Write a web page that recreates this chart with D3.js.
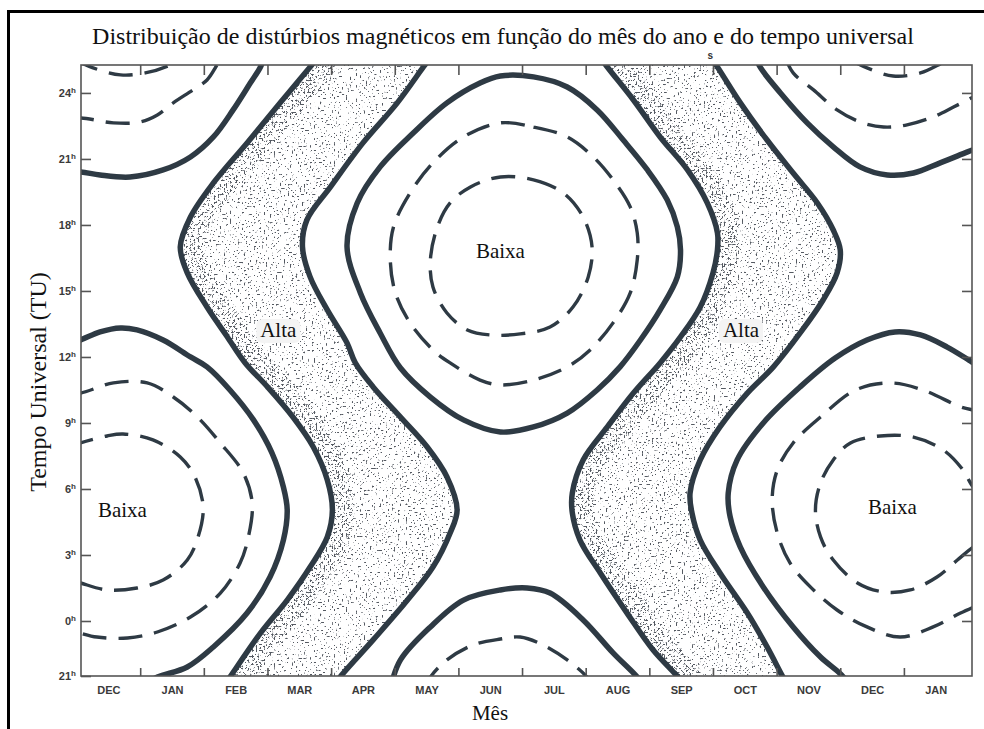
<!DOCTYPE html>
<html>
<head>
<meta charset="utf-8">
<script src="https://cdn.jsdelivr.net/npm/d3@7"></script>
<style>
  html, body { margin: 0; padding: 0; background: #fff; }
  svg { display: block; }
</style>
</head>
<body>
<svg id="chart" width="984" height="729"></svg>
<script>
// ---------------- DATA (month index: 0 = 1 Jan; hour = Tempo Universal) ----------------
const monthLabels = ["DEC","JAN","FEB","MAR","APR","MAY","JUN","JUL","AUG","SEP","OCT","NOV","DEC","JAN"];
const monthLabelPos = [-0.5,0.5,1.5,2.5,3.5,4.5,5.5,6.5,7.5,8.5,9.5,10.5,11.5,12.5];
const monthBoundaries = [0,1,2,3,4,5,6,7,8,9,10,11,12];
const hourTicks = [-2.5,0,3,6,9,12,15,18,21,24];
const hourLabels = ["21","0","3","6","9","12","15","18","21","24"];

// solid contours: borders of the high-activity bands
const solidSpringLeft = [[2.83,25.73],[2.67,25.18],[2.2,23.55],[1.68,21.73],[1.15,19.91],[0.79,18.36],[0.63,17.0],[0.74,15.82],[1.05,14.27],[1.37,12.91],[1.65,11.73],[2.0,10.64],[2.4,9.27],[2.72,7.91],[2.94,6.41],[3.02,5.05],[2.94,3.82],[2.67,2.45],[2.31,0.95],[1.89,-0.55],[1.41,-2.55],[1.29,-3.05]];
const solidSpringRight = [[4.59,25.73],[4.45,25.18],[4.04,23.55],[3.5,21.73],[2.99,19.73],[2.62,18.23],[2.55,17.0],[2.67,15.64],[2.94,14.14],[3.25,12.64],[3.38,11.73],[3.66,10.64],[4.09,9.27],[4.51,7.91],[4.82,6.55],[4.98,5.05],[4.87,4.0],[4.6,2.45],[4.2,0.95],[3.66,-0.86],[3.14,-2.55],[3.02,-3.05]];
const solidFallLeft = [[7.2,25.73],[7.34,25.18],[7.75,23.68],[8.17,22.0],[8.6,20.5],[8.91,19.0],[9.07,17.64],[9.07,16.86],[9.0,15.82],[8.8,14.27],[8.49,12.91],[8.17,11.73],[7.75,10.36],[7.34,8.82],[6.96,7.32],[6.79,5.82],[6.79,4.91],[6.91,3.68],[7.23,2.18],[7.65,0.36],[8.06,-1.32],[8.45,-2.55],[8.58,-3.05]];
const solidFallRight = [[8.94,25.73],[9.07,25.18],[9.43,23.55],[9.85,21.86],[10.26,20.36],[10.64,19.0],[10.89,17.77],[11.0,16.86],[10.95,15.82],[10.73,14.59],[10.37,13.09],[9.95,11.55],[9.54,10.36],[9.11,8.82],[8.8,7.32],[8.64,5.82],[8.67,4.91],[8.8,3.68],[9.11,2.18],[9.54,0.36],[9.85,-1.18],[10.1,-2.55],[10.2,-3.05]];

// solid contours: closed loops around the low-activity centres
const solidJun = [[5.66,24.77],[6.18,24.73],[6.71,24.27],[7.18,23.23],[7.59,21.86],[7.97,20.5],[8.28,19.14],[8.44,17.91],[8.49,16.86],[8.44,15.64],[8.17,14.14],[7.86,12.77],[7.54,11.55],[7.18,10.5],[6.71,9.45],[6.18,8.82],[5.66,8.59],[5.08,9.14],[4.56,10.18],[4.09,11.5],[3.77,13.09],[3.46,14.91],[3.25,17.0],[3.41,19.0],[3.77,20.64],[4.29,22.18],[4.82,23.55],[5.34,24.45]];
const solidJunBottom = [[3.93,-3.05],[4.09,-1.77],[4.56,-0.27],[5.08,0.95],[5.66,1.41],[6.08,1.5],[6.44,1.27],[6.96,0.05],[7.43,-1.45],[7.81,-2.55],[7.94,-3.05]];
const solidDecLeft = [[-1.1,12.64],[-0.94,12.77],[-0.63,13.14],[-0.31,13.32],[-0.05,13.23],[0.36,12.77],[0.79,12.0],[1.05,11.55],[1.41,10.5],[1.78,9.14],[2.07,7.64],[2.25,6.09],[2.31,5.05],[2.25,3.68],[2.04,2.0],[1.68,0.36],[1.15,-1.18],[0.74,-2.09],[0.27,-2.55],[0.0,-2.95]];
const solidDecLeftTop = [[-1.1,20.41],[-0.93,20.41],[-0.63,20.27],[-0.16,20.18],[0.36,20.5],[0.79,21.09],[1.15,22.0],[1.46,23.23],[1.73,24.45],[1.89,25.18],[1.96,25.73]];
const solidDecRight = [[11.13,-3.05],[11.05,-2.55],[10.69,-1.64],[10.26,-0.27],[9.79,1.55],[9.43,3.36],[9.27,4.73],[9.24,5.82],[9.38,7.32],[9.79,9.0],[10.37,10.64],[10.92,11.95],[11.42,12.77],[11.86,13.14],[12.26,13.0],[12.68,12.45],[13.07,11.77],[13.28,11.41]];
const solidDecRightTop = [[9.66,25.73],[9.74,25.18],[10.06,24.0],[10.48,22.64],[10.89,21.55],[11.31,20.64],[11.74,20.27],[12.15,20.36],[12.57,20.82],[13.0,21.32],[13.28,21.64]];

// dashed contours (lowest activity)
const dashedJunOuter = [[5.66,22.64],[6.18,22.45],[6.71,22.0],[7.12,21.09],[7.43,20.05],[7.7,18.82],[7.81,17.64],[7.81,16.41],[7.7,14.91],[7.43,13.55],[7.07,12.32],[6.71,11.55],[6.18,10.95],[5.66,10.73],[5.34,10.95],[4.87,11.73],[4.6,12.32],[4.24,13.55],[4.01,14.91],[3.93,16.41],[3.98,17.91],[4.24,19.45],[4.6,20.82],[5.08,22.0]];
const dashedJunInner = [[5.66,20.18],[6.18,20.05],[6.65,19.45],[6.96,18.36],[7.1,17.0],[7.04,15.64],[6.8,14.27],[6.44,13.36],[5.97,13.05],[5.5,13.0],[5.14,13.23],[4.82,14.0],[4.6,15.18],[4.56,16.41],[4.67,17.91],[4.87,19.0],[5.19,19.73]];
const dashedJunBottom = [[4.48,-3.05],[4.56,-2.55],[4.82,-1.77],[5.23,-1.09],[5.66,-0.82],[5.97,-0.73],[6.33,-1.09],[6.71,-1.77],[7.02,-2.55],[7.12,-3.05]];
const dashedDecLeftOuter = [[-1.1,10.36],[-0.94,10.36],[-0.42,10.82],[0.11,10.82],[0.52,10.18],[0.9,9.27],[1.26,8.09],[1.62,6.73],[1.76,5.36],[1.7,3.82],[1.57,2.64],[1.26,1.27],[0.79,0.18],[0.27,-0.5],[-0.2,-0.77],[-0.68,-0.73],[-0.94,-0.55],[-1.1,-0.41]];
const dashedDecLeftInner = [[-1.1,7.91],[-0.94,8.09],[-0.52,8.41],[-0.27,8.5],[0.2,8.23],[0.63,7.45],[0.86,6.55],[0.99,5.18],[0.91,3.82],[0.74,2.77],[0.36,1.86],[-0.05,1.5],[-0.52,1.41],[-0.94,1.73],[-1.1,1.86]];
const dashedDecLeftTopOuter = [[-1.1,22.77],[-0.94,22.86],[-0.42,22.64],[0.0,22.68],[0.27,23.0],[0.52,23.55],[0.83,24.14],[1.05,24.59],[1.18,25.14],[1.26,25.59]];
const dashedDecLeftTopInner = [[-1.02,25.5],[-0.74,25.14],[-0.31,24.82],[0.08,24.91],[0.47,25.27],[0.63,25.59]];
const dashedDecRightOuter = [[13.28,9.5],[13.09,9.59],[12.89,9.73],[12.3,10.5],[11.79,10.82],[11.24,10.5],[10.69,9.27],[10.26,8.09],[10.01,6.86],[9.93,5.5],[10.01,4.0],[10.21,2.64],[10.53,1.55],[10.95,0.5],[11.42,-0.27],[11.94,-0.73],[12.46,-0.27],[12.89,0.36],[13.28,0.86]];
const dashedDecRightInner = [[13.28,5.73],[13.09,6.09],[12.93,6.86],[12.62,7.77],[12.15,8.36],[11.63,8.41],[11.16,8.09],[10.89,7.32],[10.69,6.27],[10.61,5.05],[10.69,3.82],[10.89,2.77],[11.27,1.73],[11.68,1.32],[12.1,1.41],[12.52,2.0],[12.84,2.77],[13.09,3.36],[13.28,3.68]];
const dashedDecRightTopOuter = [[10.14,25.59],[10.26,24.91],[10.58,24.14],[10.95,23.23],[11.31,22.68],[11.68,22.45],[12.05,22.55],[12.46,22.91],[12.78,23.36],[13.09,23.82],[13.28,24.14]];
const dashedDecRightTopInner = [[11.16,25.5],[11.42,25.14],[11.83,24.77],[12.26,24.91],[12.57,25.32],[12.73,25.59]];

// region labels
const regionText  = ["Baixa","Baixa","Baixa","Alta","Alta"];
const regionMonth = [-0.28, 5.66, 11.82, 2.17, 9.44];
const regionHour  = [4.73, 16.5, 4.86, 12.91, 12.91];

const titleText = "Distribuição de distúrbios magnéticos em função do mês do ano e do tempo universal";
const xTitle = "Mês";
const yTitle = "Tempo Universal (TU)";

// ---------------- DRAWING ----------------
const svg = d3.select("#chart");
const L = 81, R = 972, T = 65, B = 676;
const x = d3.scaleLinear().domain([-0.93, 13.07]).range([L, R]);
const y = d3.scaleLinear().domain([-2.5, 25.27]).range([B, T]);
const ink = "#2e3a44";

const defs = svg.append("defs");
defs.append("clipPath").attr("id","plotClip")
  .append("rect").attr("x",L).attr("y",T).attr("width",R-L).attr("height",B-T);

function stippleFilter(id, seed, slope, offset){
  const f = defs.append("filter").attr("id",id)
    .attr("filterUnits","userSpaceOnUse").attr("x",L).attr("y",T)
    .attr("width",R-L).attr("height",B-T)
    .attr("color-interpolation-filters","sRGB");
  f.append("feTurbulence").attr("type","fractalNoise").attr("baseFrequency",0.5)
    .attr("numOctaves",3).attr("seed",seed).attr("result","n");
  f.append("feColorMatrix").attr("in","n").attr("type","matrix")
    .attr("values",`0 0 0 0 0.33 0 0 0 0 0.35 0 0 0 0 0.38 ${-slope} 0 0 0 ${offset}`)
    .attr("result","d");
  f.append("feGaussianBlur").attr("in","d").attr("stdDeviation",0.35).attr("result","b");
  f.append("feComposite").attr("in","b").attr("in2","SourceAlpha").attr("operator","in");
}
stippleFilter("stipLight", 4, 12, 4.35);
stippleFilter("stipDense", 9, 12, 4.85);

// page frame (cropped document box)
svg.append("line").attr("x1",8.5).attr("x2",8.5).attr("y1",10).attr("y2",729)
  .attr("stroke","#000").attr("stroke-width",3);
svg.append("line").attr("x1",7).attr("x2",984).attr("y1",11.5).attr("y2",11.5)
  .attr("stroke","#000").attr("stroke-width",3);

// title
const title = svg.append("text").attr("x",503).attr("y",44).attr("text-anchor","middle")
  .attr("font-family","'Liberation Serif','Times New Roman',serif").attr("font-size",24)
  .attr("fill","#111").text(titleText);
// stray subscript "s" printed between "ano" and "e" in the original
const gapIdx = titleText.indexOf("ano e") + 3;
let sx = 566;
try {
  const p0 = title.node().getStartPositionOfChar(gapIdx);
  const p1 = title.node().getEndPositionOfChar(gapIdx);
  sx = (p0.x + p1.x) / 2;
} catch (e) {}
svg.append("text").attr("x",sx).attr("y",59).attr("text-anchor","middle")
  .attr("font-family","'Liberation Sans',Arial,sans-serif").attr("font-weight","bold")
  .attr("font-size",10).attr("fill","#333").text("s");

const line = d3.line().x(d => x(d[0])).y(d => y(d[1])).curve(d3.curveCatmullRom.alpha(0.5));
const loop = d3.line().x(d => x(d[0])).y(d => y(d[1])).curve(d3.curveCatmullRomClosed.alpha(0.5));

const plot = svg.append("g").attr("clip-path","url(#plotClip)");

// stippled high-activity bands
function band(id, leftEdge, rightEdge){
  const p = line(leftEdge) + "L" + line(rightEdge.slice().reverse()).slice(1) + "Z";
  defs.append("clipPath").attr("id",id).append("path").attr("d",p);
  const g = plot.append("g").attr("clip-path",`url(#${id})`);
  g.append("path").attr("d",p).attr("fill","#000").attr("filter","url(#stipLight)");
  g.append("path").attr("d",line(leftEdge)).attr("fill","none").attr("stroke","#000")
    .attr("stroke-width",44).attr("filter","url(#stipDense)");
}
band("springBand", solidSpringLeft, solidSpringRight);
band("fallBand", solidFallLeft, solidFallRight);

// label backgrounds for "Alta"
regionText.forEach((t,i) => {
  if (t === "Alta") {
    plot.append("rect").attr("x",x(regionMonth[i])-22).attr("y",y(regionHour[i])-18)
      .attr("width",44).attr("height",24).attr("rx",6).attr("fill","#f4f4f4");
  }
});

// dashed contours
const dashedOpen = [dashedJunBottom, dashedDecLeftOuter, dashedDecLeftInner, dashedDecLeftTopOuter,
  dashedDecLeftTopInner, dashedDecRightOuter, dashedDecRightInner, dashedDecRightTopOuter, dashedDecRightTopInner];
const dashedClosed = [dashedJunOuter, dashedJunInner];
dashedOpen.forEach(c => plot.append("path").attr("d",line(c)).attr("fill","none")
  .attr("stroke",ink).attr("stroke-width",3.4).attr("stroke-dasharray","24,12"));
dashedClosed.forEach(c => plot.append("path").attr("d",loop(c)).attr("fill","none")
  .attr("stroke",ink).attr("stroke-width",3.4).attr("stroke-dasharray","24,12"));

// solid contours
const solidOpen = [solidSpringLeft, solidSpringRight, solidFallLeft, solidFallRight, solidJunBottom,
  solidDecLeft, solidDecLeftTop, solidDecRight, solidDecRightTop];
solidOpen.forEach(c => plot.append("path").attr("d",line(c)).attr("fill","none")
  .attr("stroke",ink).attr("stroke-width",5.5).attr("stroke-linejoin","round"));
plot.append("path").attr("d",loop(solidJun)).attr("fill","none")
  .attr("stroke",ink).attr("stroke-width",5.5);

// region labels
regionText.forEach((t,i) => {
  svg.append("text").attr("x",x(regionMonth[i])).attr("y",y(regionHour[i]))
    .attr("text-anchor","middle").attr("font-family","'Liberation Serif','Times New Roman',serif")
    .attr("font-size",21).attr("fill","#111").text(t);
});

// axes
const axisColor = "#555";
const tickFont = "'Liberation Sans',Arial,sans-serif";
svg.append("rect").attr("x",L).attr("y",T).attr("width",R-L).attr("height",B-T)
  .attr("fill","none").attr("stroke",axisColor).attr("stroke-width",1.6);

function styleAxis(g){
  g.select(".domain").remove();
  g.selectAll(".tick line").attr("stroke",axisColor).attr("stroke-width",1.6);
  g.selectAll(".tick text").attr("font-family",tickFont).attr("font-weight","bold")
    .attr("font-size",11).attr("fill","#3a3a3a");
}
// bottom: boundary ticks (inward) and month labels
svg.append("g").attr("transform",`translate(0,${B})`)
  .call(d3.axisBottom(x).tickValues(monthBoundaries).tickSizeInner(-8).tickSizeOuter(0).tickFormat(""))
  .call(styleAxis);
svg.append("g").attr("transform",`translate(0,${B})`)
  .call(d3.axisBottom(x).tickValues(monthLabelPos).tickSize(0).tickPadding(10)
    .tickFormat((d,i) => monthLabels[i]))
  .call(styleAxis);
// top ticks
svg.append("g").attr("transform",`translate(0,${T})`)
  .call(d3.axisTop(x).tickValues(monthBoundaries).tickSizeInner(-10).tickSizeOuter(0).tickFormat(""))
  .call(styleAxis);
// left axis
const yAxisG = svg.append("g").attr("transform",`translate(${L},0)`)
  .call(d3.axisLeft(y).tickValues(hourTicks).tickSizeInner(-10).tickSizeOuter(0).tickPadding(5)
    .tickFormat((d,i) => hourLabels[i]))
  .call(styleAxis);
yAxisG.selectAll(".tick text").each(function(){
  d3.select(this).append("tspan").attr("dy","-4").attr("font-size",8).text("h");
});
// right ticks
svg.append("g").attr("transform",`translate(${R},0)`)
  .call(d3.axisRight(y).tickValues(hourTicks.slice(1)).tickSizeInner(-10).tickSizeOuter(0).tickFormat(""))
  .call(styleAxis);

// axis titles
svg.append("text").attr("x",490).attr("y",720).attr("text-anchor","middle")
  .attr("font-family","'Liberation Serif','Times New Roman',serif").attr("font-size",21)
  .attr("fill","#111").text(xTitle);
svg.append("text").attr("transform","translate(46,382) rotate(-90)").attr("text-anchor","middle")
  .attr("font-family","'Liberation Serif','Times New Roman',serif").attr("font-size",24)
  .attr("fill","#111").text(yTitle);
</script>
</body>
</html>
